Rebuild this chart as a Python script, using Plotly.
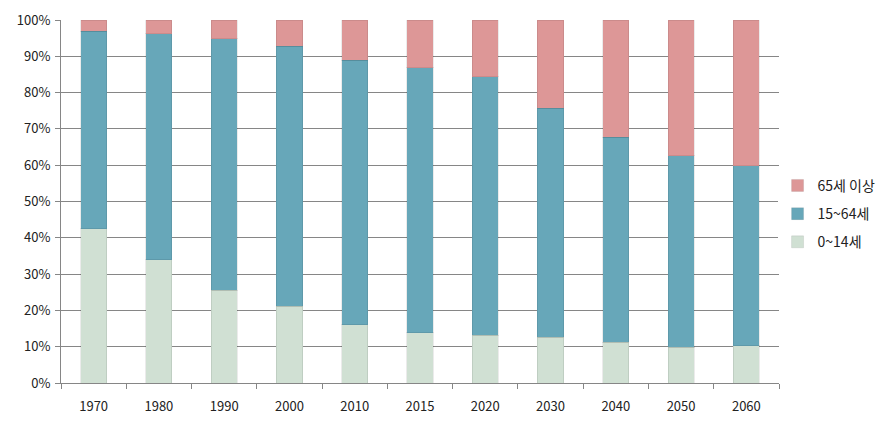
import plotly.graph_objects as go

years = ["1970", "1980", "1990", "2000", "2010", "2015", "2020", "2030", "2040", "2050", "2060"]
age_0_14 = [42.5, 34.0, 25.6, 21.1, 16.1, 13.9, 13.2, 12.6, 11.2, 9.9, 10.2]
age_15_64 = [54.4, 62.2, 69.3, 71.7, 72.8, 73.0, 71.1, 63.1, 56.5, 52.7, 49.7]
age_65_plus = [3.1, 3.8, 5.1, 7.2, 11.0, 13.1, 15.7, 24.3, 32.3, 37.4, 40.1]
series_names = ["0~14세", "15~64세", "65세 이상"]
colors = ["#D0E0D3", "#67A7B9", "#DD9797"]

FONT = "Malgun Gothic, Noto Sans CJK KR, sans-serif"

fig = go.Figure()
for i, (name, vals, col) in enumerate(zip(series_names, [age_0_14, age_15_64, age_65_plus], colors)):
    fig.add_trace(go.Bar(
        x=years, y=[v / 100 for v in vals], name=name,
        marker=dict(color=col, line=dict(color="rgba(0,0,0,0.08)", width=1)),
        width=0.4, legendgroup=str(i), legendrank=10 - i,
    ))

fig.update_layout(
    barmode="stack",
    width=894, height=429,
    margin=dict(l=61, r=115, t=20, b=46, autoexpand=False),
    plot_bgcolor="white", paper_bgcolor="white",
    font=dict(family=FONT, size=13, color="#222"),
    legend=dict(x=0.998, y=0.466, xanchor="left", yanchor="middle",
                traceorder="grouped", tracegroupgap=7,
                font=dict(size=14), itemwidth=30),
    xaxis=dict(showline=True, linecolor="#868686", linewidth=1,
               ticks="outside", tickson="boundaries", ticklen=5, tickcolor="#868686",
               ticklabelstandoff=11, showgrid=False),
    yaxis=dict(range=[0, 1], tickformat=".0%", dtick=0.1,
               showline=True, linecolor="#868686", linewidth=1,
               ticks="outside", ticklen=5, tickcolor="#868686",
               showgrid=True, gridcolor="#868686", gridwidth=1,
               zeroline=False, ticklabelstandoff=2),
)

fig.write_html("out.html")
